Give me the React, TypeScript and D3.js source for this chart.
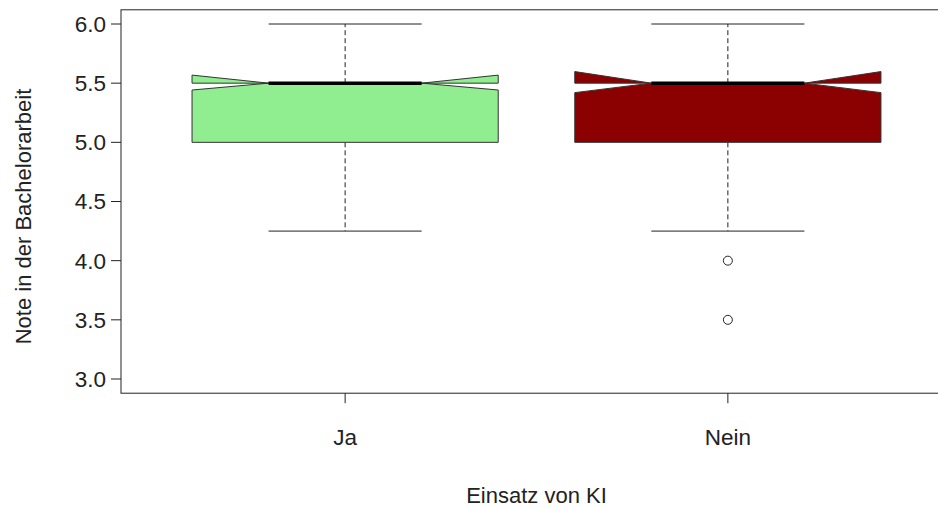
import React from "react";
import * as d3 from "d3";

const categories = ["Ja", "Nein"];
const fills = ["#90EE90", "#8B0000"];
const whiskerLow = [4.25, 4.25];
const q1 = [5.0, 5.0];
const median = [5.5, 5.5];
const q3 = [5.5, 5.5];
const whiskerHigh = [6.0, 6.0];
const notchLow = [5.442, 5.42];
const notchHigh = [5.568, 5.598];
const outliers = [[], [4.0, 3.5]];
const yTicks = [3.0, 3.5, 4.0, 4.5, 5.0, 5.5, 6.0];
const yLabel = "Note in der Bachelorarbeit";
const xLabel = "Einsatz von KI";

const W = 938;
const H = 508;
const FONT = "'Liberation Sans', Arial, sans-serif";
const FS_AXIS = 22.5;
const FS_LAB = 22;

export default function App() {
  const x = d3.scaleLinear().domain([0.4144, 2.5856]).range([121, 952]);
  const y = d3.scaleLinear().domain([3, 6]).range([379, 24]);
  const yTop = y(6.12);
  const yBot = y(2.88);
  const halfBox = 0.4;
  const notchFrac = 0.5;
  const staple = 0.2;

  return (
    <svg
      width={W}
      height={H}
      style={{ position: "absolute", left: 0, top: 0, background: "#fff" }}
      fontFamily={FONT}
    >
      {categories.map((c, i) => {
        const cx = i + 1;
        const pts: [number, number][] = [
          [cx - halfBox, q1[i]],
          [cx + halfBox, q1[i]],
          [cx + halfBox, notchLow[i]],
          [cx + halfBox * notchFrac, median[i]],
          [cx + halfBox, notchHigh[i]],
          [cx + halfBox, q3[i]],
          [cx - halfBox, q3[i]],
          [cx - halfBox, notchHigh[i]],
          [cx - halfBox * notchFrac, median[i]],
          [cx - halfBox, notchLow[i]],
        ];
        const path = d3.line()(pts.map(([a, b]) => [x(a), y(b)] as [number, number])) + "Z";
        return (
          <g key={c}>
            <line
              x1={x(cx)}
              x2={x(cx)}
              y1={y(q1[i])}
              y2={y(whiskerLow[i])}
              stroke="#222"
              strokeDasharray="5,3"
            />
            <line
              x1={x(cx)}
              x2={x(cx)}
              y1={y(q3[i])}
              y2={y(whiskerHigh[i])}
              stroke="#222"
              strokeDasharray="5,3"
            />
            <line
              x1={x(cx - staple)}
              x2={x(cx + staple)}
              y1={y(whiskerLow[i])}
              y2={y(whiskerLow[i])}
              stroke="#222"
            />
            <line
              x1={x(cx - staple)}
              x2={x(cx + staple)}
              y1={y(whiskerHigh[i])}
              y2={y(whiskerHigh[i])}
              stroke="#222"
            />
            <path d={path} fill={fills[i]} stroke="#333" strokeWidth={1} />
            <line
              x1={x(cx - halfBox * notchFrac)}
              x2={x(cx + halfBox * notchFrac)}
              y1={y(median[i])}
              y2={y(median[i])}
              stroke="#000"
              strokeWidth={3.5}
            />
            {outliers[i].map((v, j) => (
              <circle key={j} cx={x(cx)} cy={y(v)} r={4.5} fill="none" stroke="#222" strokeWidth={1} />
            ))}
          </g>
        );
      })}

      <rect
        x={x(0.4144)}
        y={yTop}
        width={x(2.5856) - x(0.4144)}
        height={yBot - yTop}
        fill="none"
        stroke="#222"
        strokeWidth={1}
      />

      {yTicks.map((t) => (
        <g key={t}>
          <line x1={x(0.4144) - 10} x2={x(0.4144)} y1={y(t)} y2={y(t)} stroke="#222" />
          <text
            x={x(0.4144) - 15}
            y={y(t)}
            dy="0.35em"
            textAnchor="end"
            fontSize={FS_AXIS}
            fill="#222"
          >
            {t.toFixed(1)}
          </text>
        </g>
      ))}

      {categories.map((c, i) => (
        <g key={c}>
          <line x1={x(i + 1)} x2={x(i + 1)} y1={yBot} y2={yBot + 10} stroke="#222" />
          <text x={x(i + 1)} y={437} dy="0.35em" textAnchor="middle" fontSize={FS_AXIS} fill="#222">
            {c}
          </text>
        </g>
      ))}

      <text x={(x(0.4144) + x(2.5856)) / 2} y={495} dy="0.35em" textAnchor="middle" fontSize={FS_LAB} fill="#222">
        {xLabel}
      </text>
      <text
        transform={`translate(23, ${(yTop + yBot) / 2 + 15}) rotate(-90)`}
        dy="0.35em"
        textAnchor="middle"
        fontSize={FS_LAB}
        fill="#222"
      >
        {yLabel}
      </text>
    </svg>
  );
}
